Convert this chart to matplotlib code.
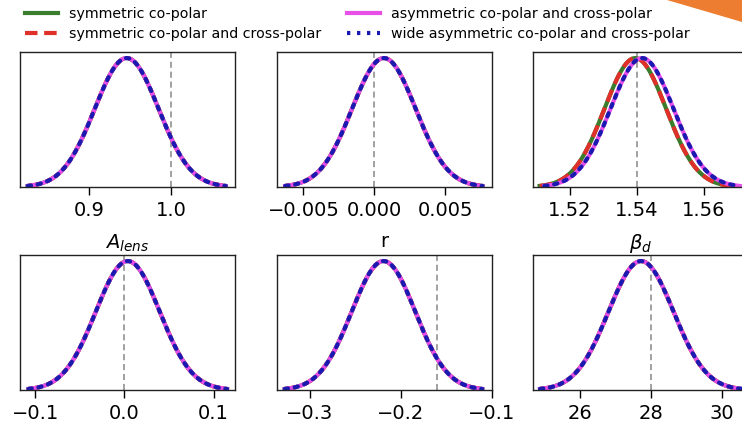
import numpy as np
import matplotlib
matplotlib.use("Agg")
import matplotlib.pyplot as plt
from matplotlib.lines import Line2D
from matplotlib.patches import Polygon

# Marginalised posteriors: mean and standard deviation per parameter and per case
series_names = [
    "symmetric co-polar",
    "symmetric co-polar and cross-polar",
    "asymmetric co-polar and cross-polar",
    "wide asymmetric co-polar and cross-polar",
]
param_labels = [r"$A_{lens}$", "r", r"$\beta_d$", "", "", ""]

means_sym = [0.946, 0.00066, 1.5395, 0.0038, -0.219, 27.72]
sigmas_sym = [0.0389, 0.00224, 0.0092, 0.0359, 0.0351, 0.92]
means_asym = [0.946, 0.00066, 1.5415, 0.0038, -0.219, 27.72]
sigmas_asym = [0.0389, 0.00224, 0.0094, 0.0359, 0.0351, 0.92]

truth_values = [1.0, 0.0, 1.54, 0.0, -0.16, 28.0]
x_limits = [(0.816, 1.078), (-0.0069, 0.00824), (1.509, 1.5731),
            (-0.117, 0.124), (-0.3369, -0.1), (24.67, 30.74)]
tick_values = [[0.9, 1.0], [-0.005, 0.0, 0.005], [1.52, 1.54, 1.56],
               [-0.1, 0.0, 0.1], [-0.3, -0.2, -0.1], [26, 28, 30]]
tick_labels = [["0.9", "1.0"], ["\u22120.005", "0.000", "0.005"],
               ["1.52", "1.54", "1.56"], ["\u22120.1", "0.0", "0.1"],
               ["\u22120.3", "\u22120.2", "\u22120.1"], ["26", "28", "30"]]

colors = ["#3a7d2c", "#e0302a", "#e84ee8", "#1a1ab0"]
styles = ["-", (0, (3, 1.6)), "-", (0, (0.8, 1.6))]
n_sigma = 3.1

W, H = 742, 424
fig = plt.figure(figsize=(W / 100, H / 100), dpi=100)

col_left = [20, 276.5, 533]
row_bottom = [187, 390]
ax_w, ax_h = 215, 135


def gauss_curve(mu, sd):
    x = np.linspace(mu - n_sigma * sd, mu + n_sigma * sd, 300)
    return x, np.exp(-0.5 * ((x - mu) / sd) ** 2)


for i in range(6):
    r, c = divmod(i, 3)
    ax = fig.add_axes([col_left[c] / W, 1 - row_bottom[r] / H, ax_w / W, ax_h / H])
    params = [(means_sym[i], sigmas_sym[i]), (means_sym[i], sigmas_sym[i]),
              (means_asym[i], sigmas_asym[i]), (means_asym[i], sigmas_asym[i])]
    for (mu, sd), col, ls in zip(params, colors, styles):
        x, y = gauss_curve(mu, sd)
        ax.plot(x, y, color=col, ls=ls, lw=3.0,
                dash_capstyle="round" if ls == styles[3] else "butt")
    ax.axvline(truth_values[i], color="#888888", lw=1.1, ls=(0, (4, 2.5)), zorder=0)
    ax.set_xlim(*x_limits[i])
    ax.set_ylim(0, 1.047)
    ax.set_yticks([])
    ax.set_xticks(tick_values[i])
    ax.set_xticklabels(tick_labels[i])
    ax.tick_params(axis="x", labelsize=14, length=6, width=1.0, pad=4)
    for sp in ax.spines.values():
        sp.set_linewidth(1.0)
        sp.set_color("#222222")
    if param_labels[i]:
        ax.set_xlabel(param_labels[i], fontsize=14, labelpad=9)

# Legend, two columns across the top
handles = [Line2D([], [], color=col, ls=ls, lw=3.0) for col, ls in zip(colors, styles)]
leg_kw = dict(frameon=False, fontsize=10.2, handlelength=2.3, handletextpad=0.8,
              labelspacing=0.4, borderaxespad=0, borderpad=0)
leg1 = fig.legend(handles[:2], series_names[:2], loc="upper left",
                  bbox_to_anchor=(25 / W, 1 - 7 / H), **leg_kw)
leg2 = fig.legend(handles[2:], series_names[2:], loc="upper left",
                  bbox_to_anchor=(347 / W, 1 - 7 / H), **leg_kw)

# Orange corner decoration
fig.patches.append(Polygon([(667 / W, 1), (1, 1), (1, 1 - 22 / H)], closed=True,
                           transform=fig.transFigure, facecolor="#ed7d31",
                           edgecolor="none", zorder=5))

fig.savefig("out.png", dpi=100)
